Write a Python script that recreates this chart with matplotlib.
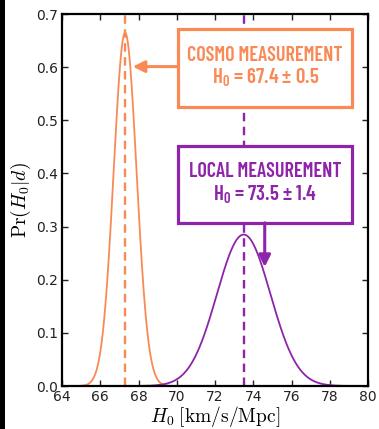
import numpy as np
import matplotlib
matplotlib.use("Agg")
import matplotlib.pyplot as plt
from matplotlib.patches import Rectangle

# ---- data ----
labels = ["COSMO MEASUREMENT", "LOCAL MEASUREMENT"]
value_text = [r"H$_\mathrm{0}$ = 67.4 ± 0.5", r"H$_\mathrm{0}$ = 73.5 ± 1.4"]
means = [67.3, 73.5]
sigmas = [0.6, 1.4]
colors = ["#F98A55", "#8E24AA"]
xticks = [64, 66, 68, 70, 72, 74, 76, 78, 80]
yticks = [0.0, 0.1, 0.2, 0.3, 0.4, 0.5, 0.6, 0.7]

plt.rcParams["mathtext.fontset"] = "cm"
plt.rcParams["mathtext.rm"] = "Barlow Condensed:semibold"
plt.rcParams["mathtext.it"] = "Barlow Condensed:semibold"
plt.rcParams["mathtext.bf"] = "Barlow Condensed:semibold"
plt.rcParams["font.family"] = ["DejaVu Sans"]

fig = plt.figure(figsize=(3.79, 4.29), dpi=100)
ax = fig.add_axes([62/379, 1-386/429, (368-62)/379, (386-14)/429])

# black strip on left edge of the screenshot
fig.patches.append(Rectangle((0, 0), 5/379, 1, transform=fig.transFigure,
                             facecolor="black", edgecolor="none", zorder=10))

x = np.linspace(64, 80, 1200)
for m, s, c in zip(means, sigmas, colors):
    y = np.exp(-0.5*((x-m)/s)**2)/(s*np.sqrt(2*np.pi))
    ax.plot(x, y, color=c, lw=1.3, zorder=2)
    ax.axvline(m, color=c, lw=1.7, dashes=(3.6, 2.3), zorder=1.5)

ax.set_xlim(64, 80)
ax.set_ylim(0, 0.7)
ax.set_xticks(xticks)
ax.set_yticks(yticks)
ax.set_xticklabels([str(t) for t in xticks])
ax.set_yticklabels([f"{t:.1f}" for t in yticks])
ax.tick_params(direction="in", length=4, width=1, top=True, right=True,
               labelsize=10, pad=3, colors="#222222")
for sp in ax.spines.values():
    sp.set_linewidth(1.6)
    sp.set_color("black")

ax.set_xlabel(r"$H_0\;[\mathrm{km/s/Mpc}]$", fontsize=14, labelpad=0)
ax.set_ylabel(r"$\mathrm{Pr}(H_0|d)$", fontsize=14, labelpad=2)

boxfont = ["Barlow Condensed", "DejaVu Sans"]
# boxes: (x0, x1, y0, y1), text line y positions
boxes = [(70.09, 79.16, 0.525, 0.672, 0.622, 0.580),
         (70.09, 79.16, 0.307, 0.452, 0.403, 0.360)]
for (x0, x1, y0, y1, t1, t2), lab, val, c in zip(boxes, labels, value_text, colors):
    ax.add_patch(Rectangle((x0, y0), x1-x0, y1-y0, facecolor="white",
                           edgecolor=c, lw=2.3, zorder=4))
    xc = (x0+x1)/2
    ax.text(xc, t1, lab, color=c, fontsize=14.5, fontweight="semibold",
            family=boxfont, ha="center", va="center", zorder=5)
    ax.text(xc, t2, val, color=c, fontsize=15, fontweight="semibold",
            family=boxfont, ha="center", va="center", zorder=5,
            math_fontfamily="custom")

# arrows
ax.annotate("", xy=(67.7, 0.601), xytext=(70.09, 0.601),
            arrowprops=dict(arrowstyle="-|>,head_length=0.7,head_width=0.35",
                            color=colors[0], lw=2.2, shrinkA=0, shrinkB=0),
            zorder=4)
ax.annotate("", xy=(74.6, 0.224), xytext=(74.6, 0.307),
            arrowprops=dict(arrowstyle="-|>,head_length=0.7,head_width=0.35",
                            color=colors[1], lw=2.2, shrinkA=0, shrinkB=0),
            zorder=4)

fig.savefig("out.png", dpi=100)
